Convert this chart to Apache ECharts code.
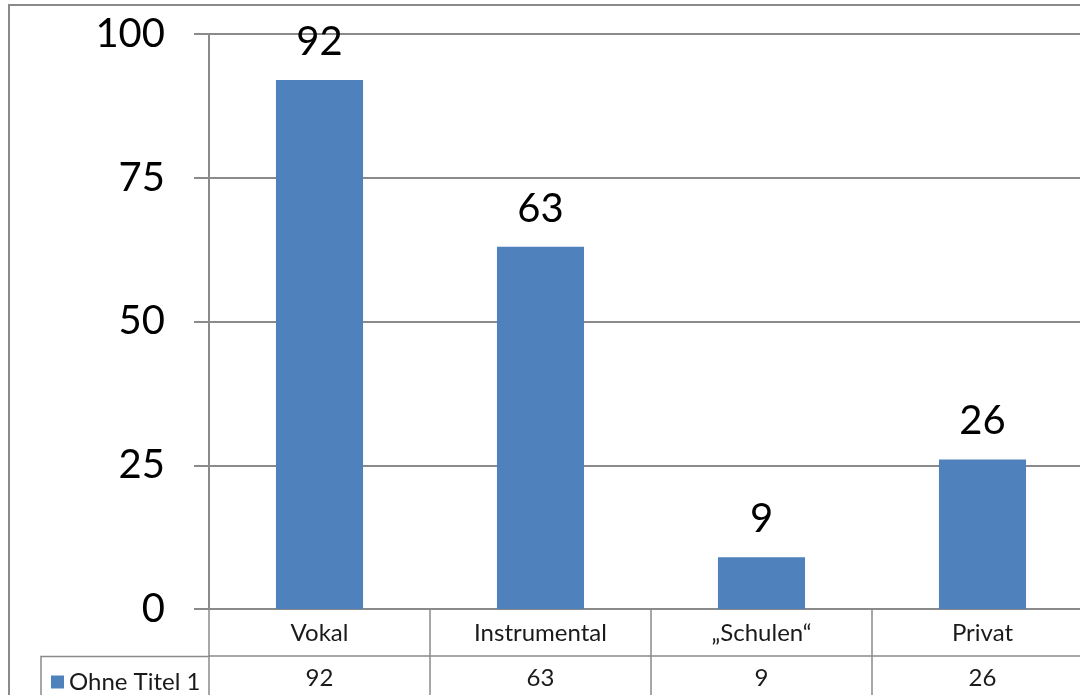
<!DOCTYPE html>
<html>
<head>
<meta charset="utf-8">
<title>Ohne Titel 1</title>
<script src="https://cdn.jsdelivr.net/npm/echarts@6/dist/echarts.min.js"></script>
<style>
  html, body { margin: 0; padding: 0; background: #fff; }
  #chart { width: 1080px; height: 695px; }
</style>
</head>
<body>
<div id="chart"></div>
<script>
// Daten
const seriesName = 'Ohne Titel 1'
const categories = ['Vokal', 'Instrumental', '„Schulen“', 'Privat']
const values = [92, 63, 9, 26]
const yTicks = [0, 25, 50, 75, 100]

const barColor = '#4F81BD'
const lineColor = '#8a8a8a'
const font = 'Lato, "Open Sans", sans-serif'

const chart = echarts.init(document.getElementById('chart'))

chart.setOption({
  animation: false,
  // Zeichenfläche läuft rechts über den Bildrand hinaus
  grid: { left: 209, top: 34, width: 884, bottom: 86, containLabel: false, outerBoundsMode: 'none' },
  legend: {
    left: 46,
    top: 665,
    itemWidth: 13,
    itemHeight: 13,
    itemGap: 6,
    icon: 'rect',
    textStyle: { fontFamily: font, fontSize: 24, color: '#1a1a1a' },
    data: [seriesName]
  },
  xAxis: [
    {
      type: 'category',
      position: 'bottom',
      data: categories,
      axisLine: { show: true, lineStyle: { color: lineColor, width: 2 } },
      axisTick: { show: true, alignWithLabel: false, length: 95, lineStyle: { color: lineColor, width: 1.5 } },
      axisLabel: { margin: 12, fontFamily: font, fontSize: 24, color: '#1a1a1a' }
    },
    {
      // zweite Tabellenzeile: Werte
      type: 'category',
      position: 'bottom',
      offset: 47,
      data: categories,
      axisLine: { show: true, lineStyle: { color: lineColor, width: 1.5 } },
      axisTick: { show: false },
      axisLabel: {
        margin: 10,
        fontFamily: font,
        fontSize: 24,
        color: '#1a1a1a',
        formatter: (v, i) => String(values[i])
      }
    }
  ],
  yAxis: {
    type: 'value',
    min: yTicks[0],
    max: yTicks[yTicks.length - 1],
    interval: 25,
    axisLine: { show: true, lineStyle: { color: lineColor, width: 2 } },
    axisTick: { show: true, length: 15, lineStyle: { color: lineColor, width: 2 } },
    axisLabel: { margin: 44, fontFamily: font, fontSize: 40, color: '#000' },
    splitLine: { show: true, lineStyle: { color: lineColor, width: 2 } }
  },
  series: [
    {
      name: seriesName,
      type: 'bar',
      xAxisIndex: 0,
      data: values,
      barWidth: '39.4%',
      itemStyle: { color: barColor },
      label: {
        show: true,
        position: 'top',
        distance: 18,
        fontFamily: font,
        fontSize: 40,
        color: '#000'
      }
    }
  ],
  graphic: [
    {
      // Rahmen des Diagramms
      type: 'rect',
      silent: true,
      shape: { x: 9, y: 5, width: 1200, height: 800 },
      style: { fill: 'none', stroke: lineColor, lineWidth: 2 }
    },
    {
      // Legendenzelle der Tabelle
      type: 'polyline',
      silent: true,
      shape: { points: [[41, 700], [41, 656.5], [209, 656.5]] },
      style: { fill: 'none', stroke: lineColor, lineWidth: 1.5 }
    }
  ]
})
</script>
</body>
</html>
